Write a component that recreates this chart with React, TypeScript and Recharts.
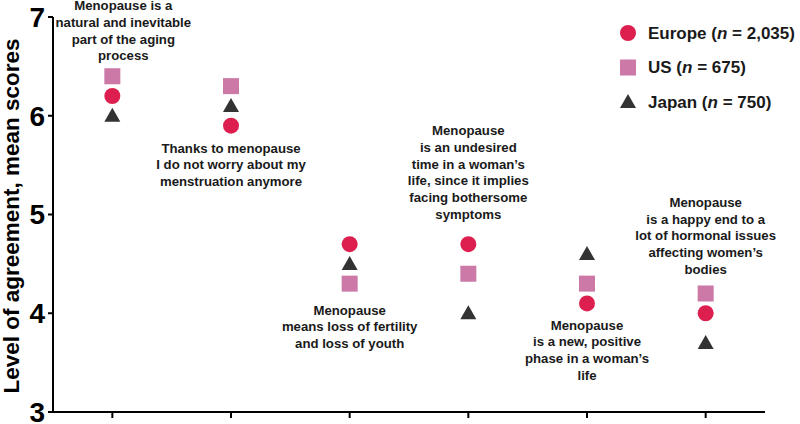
import React from 'react';
import { ComposedChart, Scatter, XAxis, YAxis } from 'recharts';

const statements: string[][] = [
  ['Menopause is a', 'natural and inevitable', 'part of the aging', 'process'],
  ['Thanks to menopause', 'I do not worry about my', 'menstruation anymore'],
  ['Menopause', 'means loss of fertility', 'and loss of youth'],
  ['Menopause', 'is an undesired', 'time in a woman\u2019s', 'life, since it implies', 'facing bothersome', 'symptoms'],
  ['Menopause', 'is a new, positive', 'phase in a woman\u2019s', 'life'],
  ['Menopause', 'is a happy end to a', 'lot of hormonal issues', 'affecting women\u2019s', 'bodies'],
];
const europe = [6.2, 5.9, 4.7, 4.7, 4.1, 4.0];
const us = [6.4, 6.3, 4.3, 4.4, 4.3, 4.2];
const japan = [6.0, 6.1, 4.5, 4.0, 4.6, 3.7];
const yTicks = [3, 4, 5, 6, 7];
const seriesNames = ['Europe', 'US', 'Japan'];
const sampleSizes = ['2,035', '675', '750'];

const FONT = '"Liberation Sans", Arial, sans-serif';
const COLORS = { europe: '#DD1F4F', us: '#CC79A7', japan: '#333333' };

// where each statement sits relative to its markers (px)
const labelLayout = [
  { side: 'above', gap: 20.5, dx: 11 },
  { side: 'below', gap: 22.4, dx: 0 },
  { side: 'below', gap: 26.4, dx: 0 },
  { side: 'above', gap: 30, dx: 0 },
  { side: 'below', gap: 21.6, dx: 0 },
  { side: 'above', gap: 24.5, dx: 0 },
];
const LINE_H = 16.7;

const rows = statements.map((lines, i) => {
  const vals = [europe[i], us[i], japan[i]];
  return {
    id: `S${i + 1}`,
    europe: europe[i],
    us: us[i],
    japan: japan[i],
    anchor: labelLayout[i].side === 'above' ? Math.max(...vals) : Math.min(...vals),
    idx: i,
  };
});

const Circle = ({ cx, cy, fill }: any) => <circle cx={cx} cy={cy} r={8} fill={fill} />;
const Square = ({ cx, cy, fill }: any) => <rect x={cx - 8} y={cy - 8} width={16} height={16} fill={fill} />;
const Triangle = ({ cx, cy, fill }: any) => (
  <polygon points={`${cx},${cy - 8} ${cx + 8},${cy + 6} ${cx - 8},${cy + 6}`} fill={fill} />
);

function StatementLabel(props: any) {
  const { cx, cy, payload } = props;
  if (cx == null || cy == null) return null;
  const i = payload.idx;
  const lines = statements[i];
  const lay = labelLayout[i];
  const firstY = lay.side === 'above'
    ? cy - lay.gap - (lines.length - 1) * LINE_H
    : cy + lay.gap;
  return (
    <text
      textAnchor="middle"
      fontFamily={FONT}
      fontWeight="bold"
      fontSize={13.2}
      fill="#1a1a1a"
    >
      {lines.map((l, k) => (
        <tspan key={k} x={cx + lay.dx} y={firstY + k * LINE_H} dy="0.35em">{l}</tspan>
      ))}
    </text>
  );
}

function YTitle({ viewBox }: any) {
  const cy = 216;
  return (
    <text
      x={18.5}
      y={cy}
      transform={`rotate(-90, 18.5, ${cy})`}
      textAnchor="middle"
      fontFamily={FONT}
      fontWeight="bold"
      fontSize={22.5}
      fill="#000"
    >
      Level of agreement, mean scores
    </text>
  );
}

const legendShapes = [Circle, Square, Triangle];
const legendColors = [COLORS.europe, COLORS.us, COLORS.japan];

export default function App() {
  return (
    <div style={{ position: 'relative', width: 800, height: 424, fontFamily: FONT }}>
      <style>{'body{margin:0}'}</style>
      <ComposedChart width={800} height={424} data={rows} margin={{ top: 17, right: 35, bottom: 0, left: 0 }}>
        <XAxis
          dataKey="id"
          type="category"
          scale="band"
          height={12}
          tickFormatter={() => ''}
          tickSize={6}
          axisLine={{ stroke: '#000', strokeWidth: 2 }}
          tickLine={{ stroke: '#000', strokeWidth: 2 }}
        />
        <YAxis
          type="number"
          domain={[3, 7]}
          ticks={yTicks}
          interval={0}
          width={53}
          tickSize={5}
          tickMargin={3}
          axisLine={{ stroke: '#000', strokeWidth: 2 }}
          tickLine={{ stroke: '#000', strokeWidth: 2 }}
          tick={{ fontSize: 28, fontWeight: 'bold', fill: '#000', fontFamily: FONT }}
          label={<YTitle />}
        />
        <Scatter dataKey="us" fill={COLORS.us} shape={Square} isAnimationActive={false} />
        <Scatter dataKey="europe" fill={COLORS.europe} shape={Circle} isAnimationActive={false} />
        <Scatter dataKey="japan" fill={COLORS.japan} shape={Triangle} isAnimationActive={false} />
        <Scatter dataKey="anchor" shape={StatementLabel} isAnimationActive={false} />
      </ComposedChart>
      <svg width={190} height={130} style={{ position: 'absolute', left: 610, top: 0 }}>
        {seriesNames.map((name, i) => {
          const Shape = legendShapes[i];
          const y = 33 + i * 34.5;
          return (
            <g key={name}>
              <Shape cx={18} cy={y} fill={legendColors[i]} />
              <text x={38} y={y} dy="0.35em" fontFamily={FONT} fontWeight="bold" fontSize={17} fill="#1a1a1a">
                {name} (<tspan fontStyle="italic">n</tspan> = {sampleSizes[i]})
              </text>
            </g>
          );
        })}
      </svg>
    </div>
  );
}
